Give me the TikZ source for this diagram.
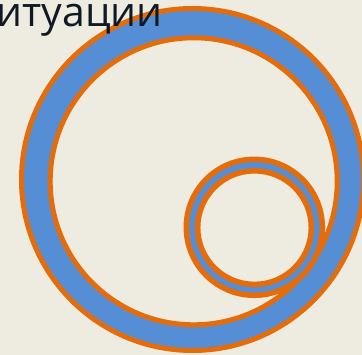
\documentclass[tikz,border=0pt]{standalone}
\usepackage{fontspec}
\setmainfont{Open Sans}
\definecolor{paper}{HTML}{EEECE1}
\definecolor{ringblue}{HTML}{558ED5}
\definecolor{ringorange}{HTML}{E46C0A}
\definecolor{inkdark}{HTML}{0F1A26}
\tikzset{
	ring/.style={draw=ringorange,fill=ringblue,line width=#1},
	hole/.style={draw=ringorange,fill=paper,line width=#1}
}
\begin{document}
\begin{tikzpicture}[x=1pt,y=-1pt]
	\def \xmax{362}
	\def \ymax{355}
	\useasboundingbox (0,0) rectangle (\xmax,\ymax);
	\fill[paper] (0,0) rectangle (\xmax,\ymax);
	\clip (0,0) rectangle (\xmax,\ymax);
	% big ring
	\draw[ring=5] (192.5,179.5) circle (171);
	\draw[hole=5] (193.7,181.3) circle (143.5);
	% small ring
	\draw[ring=5.5] (254.3,227.3) circle (68);
	\draw[hole=5.5] (254.5,227.6) circle (56.8);
	\node[anchor=base west,inner sep=0pt,text=inkdark,font=\fontsize{41}{41}\selectfont] (title) at (-3.5,27) {итуации};
\end{tikzpicture}
\end{document}
